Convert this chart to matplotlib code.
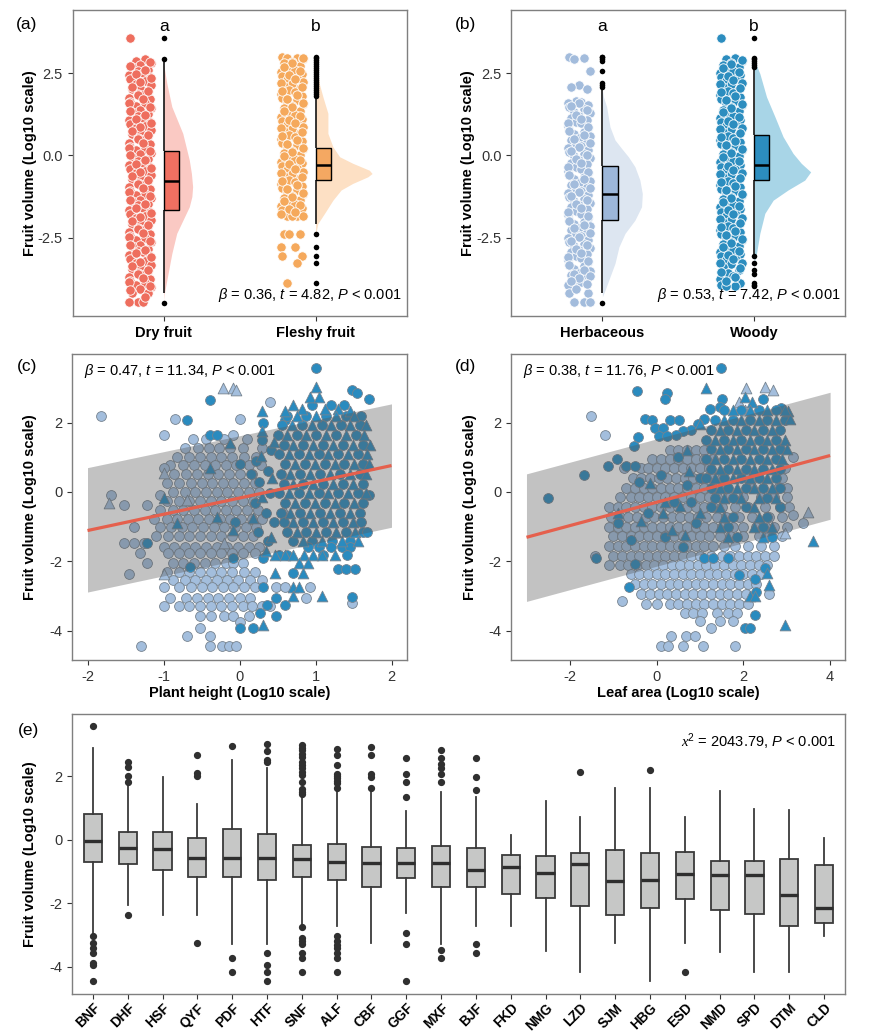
import numpy as np
import matplotlib
matplotlib.use('Agg')
import matplotlib.pyplot as plt
from matplotlib.patches import Rectangle

plt.rcParams['font.family'] = ['Liberation Sans', 'DejaVu Sans']
plt.rcParams['mathtext.fontset'] = 'custom'
plt.rcParams['mathtext.rm'] = 'Liberation Sans'
plt.rcParams['mathtext.it'] = 'Liberation Sans:italic'
plt.rcParams['mathtext.bf'] = 'Liberation Sans:bold'
plt.rcParams['mathtext.sf'] = 'Liberation Serif:italic'
plt.rcParams['axes.unicode_minus'] = False

# ---------------- data: panels (a) and (b) ----------------
a_categories = ['Dry fruit', 'Fleshy fruit']
b_categories = ['Herbaceous', 'Woody']
ab_letters = ['a', 'b']

dry_points = [3.58, 2.92, 2.87, 2.80, 2.74, 2.69, 2.61, 2.56, 2.49, 2.44, 2.37, 2.31, 2.26, 2.18, 2.13,
              2.06, 2.01, 1.94, 1.88, 1.83, 1.75, 1.70, 1.63, 1.58, 1.51, 1.45, 1.39, 1.32, 1.27, 1.20,
              1.14, 1.08, 1.01, 0.96, 0.89, 0.83, 0.77, 0.70, 0.65, 0.58, 0.52, 0.46, 0.39, 0.34, 0.27,
              0.21, 0.15, 0.08, 0.03, -0.04, -0.10, -0.16, -0.23, -0.28, -0.35, -0.41, -0.47, -0.54,
              -0.59, -0.66, -0.72, -0.78, -0.85, -0.90, -0.97, -1.03, -1.09, -1.16, -1.21, -1.28, -1.34,
              -1.40, -1.47, -1.52, -1.59, -1.65, -1.71, -1.78, -1.83, -1.90, -1.96, -2.02, -2.09, -2.14,
              -2.21, -2.27, -2.33, -2.40, -2.45, -2.52, -2.58, -2.64, -2.71, -2.76, -2.83, -2.89, -2.95,
              -3.02, -3.07, -3.14, -3.20, -3.26, -3.33, -3.38, -3.45, -3.51, -3.57, -3.64, -3.69, -3.76,
              -3.82, -3.88, -3.95, -4.00, -4.07, -4.19, -4.19, -4.46, -4.46, -4.46,
              2.84, 2.71, 2.59, 2.46, 2.34, 2.22, 2.09, 1.97, 1.85, 1.72, 1.60, 1.48, 1.35, 1.23, 1.11,
              0.98, 0.86, 0.74, 0.61, 0.49, 0.37, 0.24, 0.12, 0.0, -0.13, -0.25, -0.38, -0.50, -0.62,
              -0.75, -0.87, -0.99, -1.12, -1.24, -1.37, -1.49, -1.61, -1.74, -1.86, -1.99, -2.11, -2.24,
              -2.36, -2.48, -2.61, -2.73, -2.86, -2.98, -3.10, -3.23, -3.35, -3.48, -3.60, -3.72, -3.85,
              -3.97, -4.10, -4.30]
fleshy_points = [3.0, 2.97, 2.97, 2.92, 2.85, 2.80, 2.73, 2.67, 2.60, 2.55, 2.48, 2.42, 2.36, 2.29, 2.24,
                 2.17, 2.11, 2.05, 1.98, 1.93, 1.86, 1.80, 1.74, 1.67, 1.62, 1.55, 1.49, 1.43, 1.36, 1.31,
                 1.24, 1.18, 1.12, 1.05, 1.00, 0.93, 0.87, 0.81, 0.74, 0.69, 0.62, 0.56, 0.50, 0.43, 0.38,
                 0.31, 0.25, 0.19, 0.12, 0.07, 0.0, -0.06, -0.12, -0.19, -0.24, -0.31, -0.37, -0.43, -0.50,
                 -0.55, -0.62, -0.68, -0.74, -0.81, -0.86, -0.93, -0.99, -1.05, -1.12, -1.17, -1.24, -1.30,
                 -1.36, -1.43, -1.48, -1.55, -1.61, -1.67, -1.85, -1.85, -1.85, -1.85, -2.39, -2.39, -2.39,
                 -2.78, -2.78, -3.05, -3.05, -3.28, -3.89,
                 2.95, 2.82, 2.70, 2.57, 2.45, 2.33, 2.20, 2.08, 1.96, 1.83, 1.71, 1.59, 1.46, 1.34, 1.21,
                 1.09, 0.97, 0.84, 0.72, 0.60, 0.47, 0.35, 0.22, 0.10, -0.03, -0.15, -0.27, -0.40, -0.52,
                 -0.65, -0.77, -0.89, -1.02, -1.14, -1.27, -1.39, -1.51, -1.64, -1.72, -1.78]
herb_points = [3.0, 2.95, 2.93, 2.58, 2.14, 2.07, 2.02, 1.65, 1.62, 1.58, 1.52, 1.46, 1.40, 1.33, 1.28,
               1.21, 1.15, 1.09, 1.02, 0.97, 0.90, 0.84, 0.78, 0.71, 0.66, 0.59, 0.53, 0.47, 0.40, 0.35,
               0.28, 0.22, 0.16, 0.09, 0.04, -0.03, -0.09, -0.15, -0.22, -0.27, -0.34, -0.40, -0.46, -0.53,
               -0.58, -0.65, -0.71, -0.77, -0.84, -0.89, -0.96, -1.02, -1.08, -1.15, -1.20, -1.27, -1.33,
               -1.39, -1.46, -1.51, -1.58, -1.64, -1.70, -1.77, -1.82, -1.89, -1.95, -2.01, -2.08, -2.13,
               -2.20, -2.26, -2.32, -2.39, -2.44, -2.51, -2.57, -2.63, -2.70, -2.75, -2.82, -2.88, -2.94,
               -3.01, -3.06, -3.13, -3.19, -3.25, -3.32, -3.37, -3.44, -3.50, -3.56, -3.63, -3.70, -3.78,
               -3.86, -3.95, -4.19, -4.19, -4.46, -4.46, -4.46,
               1.60, 1.49, 1.37, 1.24, 1.12, 1.00, 0.87, 0.75, 0.63, 0.50, 0.38, 0.26, 0.13, 0.01, -0.12,
               -0.24, -0.36, -0.49, -0.61, -0.73, -0.86, -0.98, -1.11, -1.23, -1.36, -1.48, -1.60, -1.73,
               -1.85, -1.98, -2.10, -2.22, -2.35, -2.47, -2.60, -2.72, -2.85, -2.97, -3.09, -3.22, -3.34,
               -3.47, -3.59, -3.66, -3.74, -3.82, -3.90, -4.05]
woody_points = [3.58, 2.95, 2.92, 2.88, 2.82, 2.76, 2.70, 2.63, 2.58, 2.51, 2.45, 2.39, 2.32, 2.27, 2.20,
                2.14, 2.08, 2.01, 1.96, 1.89, 1.83, 1.77, 1.70, 1.65, 1.58, 1.52, 1.46, 1.39, 1.34, 1.27,
                1.21, 1.15, 1.08, 1.03, 0.96, 0.90, 0.84, 0.77, 0.72, 0.65, 0.59, 0.53, 0.46, 0.41, 0.34,
                0.28, 0.22, 0.15, 0.10, 0.03, -0.03, -0.09, -0.16, -0.21, -0.28, -0.34, -0.40, -0.47, -0.52,
                -0.59, -0.65, -0.71, -0.78, -0.83, -0.90, -0.96, -1.02, -1.09, -1.14, -1.21, -1.27, -1.33,
                -1.40, -1.45, -1.52, -1.58, -1.64, -1.71, -1.76, -1.83, -1.89, -1.95, -2.02, -2.07, -2.14,
                -2.20, -2.26, -2.33, -2.38, -2.45, -2.51, -2.57, -2.64, -2.69, -2.76, -2.82, -2.88, -2.95,
                -3.00, -3.07, -3.13, -3.19, -3.26, -3.31, -3.38, -3.49, -3.56, -3.66, -3.75, -3.89, -3.95,
                -3.97, -3.97,
                2.90, 2.79, 2.67, 2.54, 2.42, 2.30, 2.17, 2.05, 1.93, 1.80, 1.68, 1.56, 1.43, 1.31, 1.18,
                1.06, 0.94, 0.81, 0.69, 0.57, 0.44, 0.32, 0.19, 0.07, -0.06, -0.18, -0.31, -0.43, -0.55,
                -0.68, -0.80, -0.93, -1.05, -1.17, -1.30, -1.42, -1.55, -1.67, -1.79, -1.92, -2.04, -2.17,
                -2.29, -2.41, -2.54, -2.66, -2.79, -2.91, -3.03, -3.16, -3.28, -3.41, -3.53, -3.70, -3.82]

# box statistics (q1, median, q3, lower whisker, upper whisker)
dry_box = [-1.66, -0.78, 0.14, -4.19, 2.83]
fleshy_box = [-0.76, -0.28, 0.24, -2.07, 1.78]
herb_box = [-1.95, -1.18, -0.32, -4.19, 1.99]
woody_box = [-0.76, -0.28, 0.62, -3.01, 2.64]
dry_fliers = [3.58, 2.92, -4.48]
fleshy_fliers = [1.82, 1.88, 1.93, 1.99, 2.05, 2.11, 2.17, 2.23, 2.29, 2.35, 2.41, 2.47, 2.53, 2.59,
                 2.65, 2.71, 2.77, 2.83, 2.89, 2.95, 3.0, -2.39, -2.78, -3.05, -3.28, -3.89]
herb_fliers = [2.09, 2.14, 2.19, 2.58, 2.88, 2.93, 2.98, 3.0, -4.48]
woody_fliers = [2.70, 2.76, 2.82, 2.88, 2.93, 2.97, 3.58, -3.05, -3.28, -3.49, -3.59, -3.89, -3.95, -3.97]

# half-violin outlines (y, half width in category units)
dry_violin_y = [2.75, 2.19, 1.48, 0.67, -0.14, -0.55, -0.95, -1.25, -1.56, -1.95, -2.37, -2.98, -3.79, -4.19, -4.4]
dry_violin_w = [0.0, 0.02, 0.053, 0.125, 0.168, 0.182, 0.19, 0.185, 0.168, 0.128, 0.085, 0.053, 0.02, 0.004, 0.0]
fleshy_violin_y = [3.0, 2.6, 2.15, 1.75, 1.28, 0.67, 0.26, -0.04, -0.24, -0.45, -0.55, -0.65, -0.85, -1.05, -1.36, -1.76, -2.07, -2.4]
fleshy_violin_w = [0.0, 0.012, 0.026, 0.05, 0.081, 0.081, 0.114, 0.158, 0.245, 0.354, 0.372, 0.344, 0.245, 0.168, 0.114, 0.059, 0.015, 0.0]
herb_violin_y = [1.99, 1.78, 1.48, 0.87, 0.47, 0.21, -0.04, -0.34, -0.75, -1.16, -1.56, -1.97, -2.37, -2.78, -3.28, -3.69, -4.09, -4.3]
herb_violin_w = [0.0, 0.007, 0.028, 0.05, 0.083, 0.127, 0.171, 0.214, 0.247, 0.263, 0.258, 0.214, 0.149, 0.109, 0.083, 0.05, 0.018, 0.0]
woody_violin_y = [2.9, 2.49, 1.78, 1.18, 0.57, 0.06, -0.24, -0.5, -0.75, -1.05, -1.36, -1.76, -2.37, -2.98, -3.28]
woody_violin_w = [0.0, 0.037, 0.081, 0.136, 0.19, 0.256, 0.31, 0.372, 0.333, 0.223, 0.125, 0.07, 0.037, 0.015, 0.0]

a_stat_text = r"$\beta$ = 0.36, $t$ = 4.82, $P$ < 0.001"
b_stat_text = r"$\beta$ = 0.53, $t$ = 7.42, $P$ < 0.001"

# ---------------- data: panel (c) plant height ----------------
c_herb_circle_rows = [
    (2.19, [-1.82]), (2.6, [0.40]), (2.1, [-0.85, 0.0]), (1.63, [-1.0, -0.09]),
    (1.53, [-0.61, -0.44, -0.2, 0.1]),
    (1.28, [-0.72, -0.55, -0.4, -0.27, -0.12, 0.05, 0.3]),
    (1.02, [-0.82, -0.66, -0.52, -0.38, -0.24, -0.1, 0.06, 0.22]),
    (0.78, [-0.92, -0.74, -0.6, -0.46, -0.32, -0.18, -0.04, 0.12, 0.28]),
    (0.68, [-1.0]),
    (0.52, [-0.86, -0.7, -0.56, -0.42, -0.28, -0.14, 0.0, 0.16]),
    (0.26, [-0.95, -0.8, -0.64, -0.5, -0.36, -0.22, -0.08, 0.06, 0.2]),
    (0.0, [-0.88, -0.72, -0.58, -0.44, -0.3, -0.16, -0.02, 0.12, 0.26]),
    (-0.1, [-1.69, -1.05]),
    (-0.26, [-0.96, -0.8, -0.66, -0.52, -0.38, -0.24, -0.1, 0.04, 0.18]),
    (-0.39, [-1.52, -1.22]),
    (-0.52, [-1.04, -0.88, -0.74, -0.6, -0.46, -0.32, -0.18, -0.04, 0.1, 0.24]),
    (-0.78, [-1.12, -0.96, -0.82, -0.68, -0.54, -0.4, -0.26, -0.12, 0.02, 0.16, 0.3]),
    (-1.02, [-1.39, -1.04, -0.9, -0.76, -0.62, -0.48, -0.34, -0.2, -0.06, 0.08, 0.22]),
    (-1.28, [-1.1, -0.94, -0.8, -0.66, -0.52, -0.38, -0.24, -0.1, 0.04, 0.18]),
    (-1.46, [-1.52, -1.39, -1.26]),
    (-1.58, [-1.0, -0.86, -0.72, -0.58, -0.44, -0.3, -0.16, -0.02, 0.12, 0.26]),
    (-1.77, [-1.31, -0.94, -0.8, -0.66, -0.52, -0.38, -0.24, -0.1, 0.04, 0.2]),
    (-2.06, [-1.22, -0.88, -0.74, -0.6, -0.46, -0.32, -0.18, -0.09, 0.04]),
    (-2.3, [-0.96, -0.8, -0.66, -0.52, -0.38, -0.24, -0.1, 0.06, 0.2]),
    (-2.37, [-1.45]),
    (-2.55, [-0.88, -0.72, -0.58, -0.44, -0.3, -0.16, -0.02, 0.14, 0.3]),
    (-2.75, [-1.0, -0.8, -0.64, -0.5, -0.36, -0.22, -0.08, 0.06, 0.2, 0.48, 0.6, 0.93]),
    (-3.05, [-0.91, -0.7, -0.56, -0.42, -0.28, -0.14, 0.0, 0.14, 0.88]),
    (-3.21, [1.48]),
    (-3.3, [-1.0, -0.8, -0.66, -0.52, -0.38, -0.24, -0.1, 0.04, 0.16, 0.3, 0.4]),
    (-3.58, [-0.52, -0.38, -0.2, -0.08, 0.12]),
    (-3.74, [0.0]), (-3.93, [-0.52]), (-4.17, [-0.69, -0.39]),
    (-4.46, [-1.3, -0.39, -0.23, -0.14, -0.04]),
]
c_herb_triangle_rows = [
    (2.99, [-0.22, -0.08]), (2.94, [-0.04]), (0.54, [-1.0]), (-0.32, [-1.72]),
    (-0.23, [-0.69]), (-0.52, [0.58]), (-1.47, [-0.21]), (-2.36, [-1.0]),
]
c_woody_circle_rows = [
    (3.58, [1.0]), (2.94, [1.48]), (2.85, [1.55]), (2.67, [1.7]), (2.65, [-0.39]),
    (2.5, [0.95, 1.2, 1.38]), (2.07, [-0.69, 0.6]), (2.0, [0.31]), (1.63, [-0.39, -0.3]),
    (2.2, [0.62, 0.88, 1.14, 1.4, 1.6]),
    (1.92, [0.56, 0.82, 1.08, 1.34, 1.58]),
    (1.64, [0.5, 0.75, 1.01, 1.27, 1.53]),
    (1.5, [0.3]),
    (1.36, [0.58, 0.84, 1.1, 1.36, 1.62]),
    (1.2, [0.42]),
    (1.08, [0.52, 0.78, 1.04, 1.3, 1.56]),
    (0.9, [0.22]),
    (0.8, [0.0, 0.6, 0.86, 1.12, 1.38, 1.62]),
    (0.6, [0.38]),
    (0.52, [0.15, 0.54, 0.8, 1.06, 1.32, 1.58]),
    (0.3, [0.25]),
    (0.24, [0.58, 0.84, 1.1, 1.36, 1.62]),
    (-0.04, [0.4, 0.52, 0.78, 1.04, 1.3, 1.56]),
    (-0.1, [1.7]),
    (-0.32, [0.2, 0.6, 0.86, 1.12, 1.38, 1.62]),
    (-0.6, [0.35, 0.54, 0.8, 1.06, 1.32, 1.58]),
    (-0.88, [-0.06, 0.45, 0.58, 0.84, 1.1, 1.36, 1.6]),
    (-1.16, [0.24, 0.62, 0.88, 1.14, 1.4, 1.63, 1.68]),
    (-1.42, [0.38, 0.7, 0.96, 1.22, 1.46]),
    (-1.46, [-1.22]),
    (-1.58, [0.9, 1.05, 1.2, 1.35, 1.45]),
    (-1.82, [0.52, 0.62, 1.1, 1.41]),
    (-1.91, [-0.08, 0.31]),
    (-2.18, [-0.65]),
    (-2.22, [1.3, 1.4, 1.52]),
    (-2.35, [0.71]),
    (-2.75, [0.31]), (-3.02, [1.48]), (-3.05, [0.48]), (-3.26, [0.36, 0.6]),
    (-3.5, [0.27]), (-3.58, [0.48]), (-3.94, [0.0, 0.18]),
]
c_woody_triangle_rows = [
    (3.04, [1.0]), (2.75, [0.93, 1.05]), (2.51, [0.71]), (2.4, [0.82, 1.12, 1.3]),
    (2.32, [0.29, 0.6, 1.45]),
    (2.2, [0.75, 1.01, 1.27, 1.5]),
    (1.92, [0.69, 0.95, 1.21, 1.46, 1.66]),
    (1.75, [0.3]),
    (1.64, [0.62, 0.88, 1.14, 1.4, 1.64]),
    (1.45, [0.45]),
    (1.4, [-0.12]),
    (1.36, [0.71, 0.97, 1.23, 1.49, 1.72]),
    (1.08, [0.65, 0.91, 1.17, 1.43, 1.68]),
    (1.05, [0.28]),
    (0.8, [0.73, 0.99, 1.25, 1.5, 1.7]),
    (0.68, [-0.39]),
    (0.52, [0.67, 0.93, 1.19, 1.45, 1.66]),
    (0.4, [0.43]),
    (0.24, [0.71, 0.97, 1.23, 1.49]),
    (-0.04, [0.65, 0.91, 1.17, 1.43, 1.66]),
    (-0.15, [0.3]),
    (-0.19, [-1.0]),
    (-0.32, [0.73, 0.99, 1.25, 1.5]),
    (-0.6, [0.67, 0.93, 1.19, 1.45]),
    (-0.71, [-0.3]),
    (-0.75, [0.18]),
    (-0.88, [0.71, 0.97, 1.23, 1.49]),
    (-0.9, [-0.82]),
    (-1.1, [-0.08]),
    (-1.16, [0.75, 1.01, 1.27, 1.52]),
    (-1.3, [0.42]),
    (-1.42, [0.83, 1.09, 1.35, 1.56]),
    (-1.7, [0.35]),
    (-1.82, [0.47, 0.6, 0.71, 0.85, 0.97, 1.08, 1.25]),
    (-2.06, [0.78, 0.9]),
    (-2.35, [0.47, 0.83]),
    (-2.73, [0.71, 0.78]),
    (-3.0, [0.71, 1.08]),
    (-3.84, [0.31]),
]
c_fit_x = [-2.0, 2.0]
c_fit_y = [-1.115, 0.76]
c_band_low = [-2.89, -1.02]
c_band_high = [0.70, 2.54]
c_stat_text = r"$\beta$ = 0.47, $t$ = 11.34, $P$ < 0.001"

# ---------------- data: panel (d) leaf area ----------------
d_herb_circle_rows = [
    (2.19, [-1.51]), (1.63, [-1.2]),
    (1.2, [0.3, 0.5, 0.7, 0.9, 1.1]),
    (1.02, [3.14]),
    (0.95, [-0.1, 0.1, 0.3, 0.5, 0.7, 0.9, 1.1, 1.3]),
    (0.68, [-0.75, -0.35, -0.2, 0.0, 0.2, 0.4, 0.6, 0.8, 1.0, 1.2, 2.95]),
    (0.4, [-0.55, -0.35, -0.15, 0.05, 0.25, 0.45, 0.65, 0.85, 1.05, 1.25, 1.5, 2.1, 2.9]),
    (0.12, [-0.7, -0.5, -0.3, -0.1, 0.1, 0.3, 0.5, 0.7, 0.9, 1.1, 1.3, 1.6, 2.2, 2.8, 3.0]),
    (-0.16, [-0.85, -0.6, -0.4, -0.2, 0.0, 0.2, 0.4, 0.6, 0.8, 1.0, 1.2, 1.4, 1.7, 2.0, 2.4, 2.7, 3.0]),
    (-0.44, [-1.1, -0.9, -0.7, -0.5, -0.3, -0.1, 0.1, 0.3, 0.5, 0.7, 0.9, 1.1, 1.3, 1.5, 1.8, 2.1, 2.5, 2.85, 3.05]),
    (-0.66, [3.14]),
    (-0.72, [-1.05, -0.85, -0.65, -0.45, -0.25, -0.05, 0.15, 0.35, 0.55, 0.75, 0.95, 1.15, 1.4, 1.6, 1.9, 2.2, 2.6, 2.9]),
    (-0.9, [3.37]),
    (-1.0, [-1.1, -0.9, -0.7, -0.5, -0.3, -0.1, 0.1, 0.3, 0.5, 0.7, 0.9, 1.1, 1.3, 1.5, 1.75, 2.0, 2.3, 2.7, 3.0]),
    (-1.28, [-1.0, -0.8, -0.6, -0.4, -0.2, 0.0, 0.2, 0.4, 0.6, 0.8, 1.0, 1.2, 1.45, 1.7, 2.0, 2.35, 2.6, 2.9]),
    (-1.56, [-1.1, -0.9, -0.7, -0.5, -0.3, -0.1, 0.1, 0.3, 0.5, 0.7, 0.9, 1.1, 1.3, 1.55, 1.8, 2.1, 2.4, 2.7]),
    (-1.84, [-1.42, -1.0, -0.8, -0.6, -0.4, -0.2, 0.0, 0.2, 0.4, 0.6, 0.8, 1.0, 1.25, 1.5, 1.7, 1.9, 2.1, 2.3, 2.5, 2.7]),
    (-2.1, [-1.1, -0.85, -0.65, -0.45, -0.25, -0.05, 0.15, 0.35, 0.55, 0.75, 0.95, 1.15, 1.35, 1.55, 1.75, 1.95, 2.15, 2.35, 2.55]),
    (-2.38, [-0.6, -0.4, -0.2, 0.0, 0.2, 0.4, 0.6, 0.8, 1.0, 1.2, 1.4, 1.6, 1.8, 2.0, 2.2, 2.4]),
    (-2.66, [-0.5, -0.3, -0.1, 0.1, 0.3, 0.5, 0.7, 0.9, 1.1, 1.3, 1.5, 1.7, 1.9, 2.1, 2.3]),
    (-2.94, [-0.35, -0.15, 0.05, 0.25, 0.45, 0.65, 0.85, 1.05, 1.25, 1.45, 1.65, 1.85, 2.05, 2.6]),
    (-3.16, [-0.8]),
    (-3.22, [-0.25, 0.0, 0.3, 0.5, 0.7, 0.9, 1.1, 1.3, 1.5, 1.7, 1.9, 2.1]),
    (-3.5, [0.65, 0.85, 1.05, 1.4, 1.65, 1.85]),
    (-3.72, [1.0, 1.45, 1.75]),
    (-3.93, [1.25]),
    (-4.17, [0.34, 0.67, 0.88]),
    (-4.46, [0.11, 0.27, 0.61, 1.07, 1.8]),
]
d_herb_triangle_rows = [
    (3.04, [2.49]), (2.99, [2.07]), (2.94, [2.68]), (2.37, [2.03]), (2.6, [1.9]),
    (-0.57, [3.49]), (-1.0, [2.57]), (-1.19, [2.95]),
]
d_woody_circle_rows = [
    (3.58, [1.49]), (2.92, [-0.46]), (2.85, [0.25]), (2.67, [0.19, 1.51, 2.45]),
    (2.44, [1.46]), (2.41, [2.87]), (2.38, [1.23]),
    (2.35, [1.55, 1.95, 2.35, 2.75]),
    (2.1, [-0.27, 1.1]), (2.08, [-0.1]), (2.07, [0.31, 0.52, 1.35, 1.75, 2.15, 2.55, 2.95]),
    (1.95, [0.95]), (1.85, [-0.04, 0.14]), (1.8, [0.8]),
    (1.79, [1.25, 1.65, 2.05, 2.45, 2.85]),
    (1.75, [0.6]), (1.65, [0.45]), (1.6, [0.05, 0.25]), (1.58, [-0.42]),
    (1.51, [1.15, 1.55, 1.95, 2.35, 2.75]),
    (1.33, [-0.51]),
    (1.23, [1.25, 1.65, 2.05, 2.45, 2.85]),
    (1.0, [0.5]),
    (0.95, [-0.92, 1.15, 1.55, 1.95, 2.35, 2.75]),
    (0.75, [-1.11, -0.71, -0.5]),
    (0.67, [1.25, 1.65, 2.05, 2.45, 2.85]),
    (0.5, [0.1]), (0.48, [-1.67]),
    (0.4, [1.0]),
    (0.39, [1.15, 1.55, 1.95, 2.35, 2.75]),
    (0.3, [-0.4]), (0.2, [0.7]),
    (0.11, [1.25, 1.65, 2.05, 2.45, 2.85]),
    (-0.19, [-2.5]),
    (-0.17, [1.35, 1.75, 2.55]),
    (-0.3, [0.4, 0.8]),
    (-0.45, [1.25, 2.05, 2.85]),
    (-0.6, [-0.2]),
    (-0.73, [1.75, 2.55]),
    (-0.9, [-0.9, 0.9]),
    (-1.01, [1.65, 2.45]),
    (-1.3, [0.2]), (-1.4, [-0.6]),
    (-1.29, [1.85, 2.65]),
    (-1.6, [0.6]),
    (-1.9, [1.1, 1.3]), (-1.91, [-1.4, 1.65]),
    (-2.08, [-0.5]), (-2.2, [2.5]), (-2.4, [1.9]), (-2.52, [2.26]),
    (-2.75, [-0.63]), (-2.9, [2.3]), (-3.55, [2.26]), (-3.93, [2.03, 2.15]),
]
d_woody_triangle_rows = [
    (2.99, [1.13]), (2.75, [2.03]), (2.6, [2.2]), (2.34, [3.04]), (2.1, [3.08]),
    (2.35, [1.75, 2.15, 2.55, 2.95]),
    (2.07, [1.55, 1.95, 2.35, 2.75]),
    (1.95, [1.0]),
    (1.79, [1.45, 1.85, 2.25, 2.65]),
    (1.51, [1.35, 1.75, 2.15, 2.55, 2.95]),
    (1.23, [1.45, 1.85, 2.25, 2.65, 3.0]),
    (1.2, [0.7]),
    (0.95, [1.35, 1.75, 2.15, 2.55, 2.9]),
    (0.67, [1.45, 1.85, 2.25, 2.65]),
    (0.6, [0.75]),
    (0.39, [1.35, 1.75, 2.15, 2.55]),
    (0.25, [-0.15]),
    (0.11, [1.45, 1.85, 2.25, 2.65]),
    (-0.17, [1.55, 1.95, 2.35, 2.75]),
    (-0.3, [0.2]),
    (-0.4, [0.55]),
    (-0.45, [1.45, 2.25]),
    (-0.6, [-0.9, 0.15, 1.0]),
    (-0.73, [1.55, 2.35]),
    (-0.85, [-0.35]),
    (-1.01, [1.45, 2.25, 2.65]),
    (-1.1, [0.35]),
    (-1.25, [0.65]),
    (-1.29, [1.65, 2.45]),
    (-1.43, [3.6]),
    (-2.35, [2.55]), (-2.7, [2.6]), (-3.0, [2.15, 2.26]), (-3.84, [2.97]),
]
d_fit_x = [-3.0, 4.0]
d_fit_y = [-1.31, 1.05]
d_band_low = [-3.16, -0.79]
d_band_high = [0.52, 2.875]
d_stat_text = r"$\beta$ = 0.38, $t$ = 11.76, $P$ < 0.001"

# ---------------- data: panel (e) sites ----------------
e_sites = ['BNF', 'DHF', 'HSF', 'QYF', 'PDF', 'HTF', 'SNF', 'ALF', 'CBF', 'GGF', 'MXF',
           'BJF', 'FKD', 'NMG', 'LZD', 'SJM', 'HBG', 'ESD', 'NMD', 'SPD', 'DTM', 'CLD']
e_median = [-0.03, -0.27, -0.28, -0.56, -0.56, -0.56, -0.59, -0.69, -0.73, -0.73, -0.73,
            -0.94, -0.87, -1.05, -0.77, -1.31, -1.28, -1.06, -1.11, -1.10, -1.74, -2.15]
e_q1 = [-0.69, -0.77, -0.94, -1.18, -1.18, -1.27, -1.18, -1.28, -1.47, -1.21, -1.47,
        -1.47, -1.71, -1.83, -2.09, -2.37, -2.16, -1.85, -2.22, -2.34, -2.73, -2.62]
e_q3 = [0.83, 0.25, 0.25, 0.07, 0.33, 0.17, -0.15, -0.13, -0.22, -0.27, -0.18,
        -0.26, -0.47, -0.52, -0.42, -0.33, -0.42, -0.38, -0.67, -0.67, -0.61, -0.80]
e_whisker_low = [-2.99, -2.05, -2.36, -2.36, -3.29, -3.29, -2.68, -2.73, -3.25, -2.31, -3.29,
                 -2.73, -2.73, -3.50, -4.18, -3.25, -4.46, -3.25, -3.55, -4.18, -4.18, -3.03]
e_whisker_high = [2.89, 1.73, 1.98, 1.14, 2.51, 2.27, 1.36, 1.57, 1.52, 0.91, 1.52,
                  1.34, 0.16, 1.23, 0.71, 1.63, 1.63, 0.72, 1.53, 0.98, 0.93, 0.06]
e_outliers = [
    [3.59, -3.04, -3.25, -3.41, -3.57, -3.88, -3.96, -4.46],
    [2.47, 2.31, 2.0, 1.84, -2.36],
    [],
    [2.68, 2.10, 2.02, -3.25],
    [2.97, -3.74, -4.18],
    [3.01, 2.80, 2.52, 2.46, -3.57, -3.94, -4.18, -4.46],
    [2.99, 2.91, 2.83, 2.72, 2.62, 2.47, 2.37, 2.26, 2.15, 2.05, 1.84, 1.60, 1.52, 1.45,
     -2.75, -3.10, -3.20, -3.29, -3.57, -3.73, -4.18],
    [2.87, 2.68, 2.36, 2.08, 2.0, 1.94, 1.85, 1.78, 1.63, -3.04, -3.2, -3.3, -3.41, -3.57, -3.73, -4.18],
    [2.94, 2.68, 2.08, 1.99, 1.63],
    [2.59, 2.08, 1.84, 1.35, -2.94, -3.28, -4.46],
    [2.83, 2.59, 2.38, 2.26, 2.08, 1.84, -3.46, -3.73],
    [2.59, 1.99, 1.57, -3.28, -3.57],
    [], [], [2.13], [], [2.19], [-4.18], [], [], [], [],
]
e_stat_text = r"$\mathsf{x}^2$ = 2043.79, $P$ < 0.001"

# ---------------- styling ----------------
W, H = 875, 1035
fig = plt.figure(figsize=(W / 100, H / 100), dpi=100)

def px_axes(l, t, r, b):
    return fig.add_axes([l / W, 1 - b / H, (r - l) / W, (b - t) / H])

SPINE = '#7F7F7F'
TXT = '#333333'

def style(ax):
    for s in ax.spines.values():
        s.set_color(SPINE)
        s.set_linewidth(1.0)
    ax.tick_params(direction='out', length=3.5, width=0.8, color=TXT,
                   labelsize=10.5, labelcolor=TXT)

def rows_to_xy(rows):
    xs, ys = [], []
    for y, xl in rows:
        for x in xl:
            xs.append(x)
            ys.append(y)
    return np.array(xs), np.array(ys)

jitter = [-0.072, 0.026, -0.036, 0.068, -0.004, -0.058, 0.048, -0.022, 0.012, -0.078, 0.058]

def raincloud(ax, pos, pts, box, fliers, vy, vw, pcol, bcol, vcol):
    vy = np.array(vy)
    vw = np.array(vw)
    ax.fill_betweenx(vy, pos, pos + vw, color=vcol, lw=0, zorder=1)
    pts = np.array(pts)
    xs = np.array([pos - 0.15 + jitter[i % len(jitter)] for i in range(len(pts))])
    ax.scatter(xs, pts, s=46, color=pcol, edgecolor='white', linewidth=0.6, zorder=2)
    q1, med, q3, lo, hi = box
    ax.vlines(pos, lo, q1, color='black', lw=1.1, zorder=3)
    ax.vlines(pos, q3, hi, color='black', lw=1.1, zorder=3)
    ax.add_patch(Rectangle((pos, q1), 0.1, q3 - q1, facecolor=bcol, edgecolor='black', lw=1.0, zorder=4))
    ax.hlines(med, pos, pos + 0.1, color='black', lw=1.8, zorder=5)
    ax.scatter(np.full(len(fliers), pos), fliers, s=16, color='black', zorder=5, linewidth=0)

def panel_ab(ax, cats, groups, stat_text, label_x):
    style(ax)
    for i, g in enumerate(groups):
        raincloud(ax, i + 1, *g)
    ax.set_xlim(0.4, 2.6)
    ax.set_ylim(-4.88, 4.41)
    ax.set_yticks([-2.5, 0.0, 2.5])
    ax.set_yticklabels(['-2.5', '0.0', '2.5'])
    ax.set_xticks([1, 2])
    ax.set_xticklabels(cats, fontweight='bold', color='black', fontsize=10.5)
    ax.set_ylabel('Fruit volume (Log10 scale)', fontweight='bold', fontsize=10.5)
    ax.yaxis.set_label_coords(label_x, 0.5)
    for i, l in enumerate(ab_letters):
        ax.text(i + 1, 3.92, l, ha='center', va='center', fontsize=12.5, color='black')
    ax.text(0.985, 0.07, stat_text, transform=ax.transAxes, ha='right', va='center', fontsize=10.5)

ax_a = px_axes(72.7, 10.3, 406.7, 316)
panel_ab(ax_a, a_categories,
         [(dry_points, dry_box, dry_fliers, dry_violin_y, dry_violin_w, '#EE6E5E', '#EF7061', '#FAC9C3'),
          (fleshy_points, fleshy_box, fleshy_fliers, fleshy_violin_y, fleshy_violin_w, '#F5A95C', '#F4A862', '#FDE0C4')],
         a_stat_text, -0.107)
ax_b = px_axes(511.3, 10.3, 845.3, 316)
panel_ab(ax_b, b_categories,
         [(herb_points, herb_box, herb_fliers, herb_violin_y, herb_violin_w, '#A3BCDC', '#9DB7D9', '#DDE6F1'),
          (woody_points, woody_box, woody_fliers, woody_violin_y, woody_violin_w, '#2C8DBF', '#2C8DBF', '#A8D5E7')],
         b_stat_text, -0.109)

HERB = '#A3BEDD'
WOOD = '#2A8BBF'
EDGE = '#76838F'

def panel_scatter(ax, hc, ht, wc, wt, fx, fy, blo, bhi, xlim, xticks, xlabel, stat_text, label_x):
    style(ax)
    x, y = rows_to_xy(hc)
    ax.scatter(x, y, s=50, marker='o', color=HERB, edgecolor=EDGE, linewidth=0.6, zorder=2)
    x, y = rows_to_xy(ht)
    ax.scatter(x, y, s=60, marker='^', color=HERB, edgecolor=EDGE, linewidth=0.6, zorder=2)
    x, y = rows_to_xy(wc)
    ax.scatter(x, y, s=50, marker='o', color=WOOD, edgecolor=EDGE, linewidth=0.6, zorder=2)
    x, y = rows_to_xy(wt)
    ax.scatter(x, y, s=60, marker='^', color=WOOD, edgecolor=EDGE, linewidth=0.6, zorder=2)
    ax.fill_between(fx, blo, bhi, color='#585858', alpha=0.36, lw=0, zorder=3)
    ax.plot(fx, fy, color='#E5604D', lw=2.3, zorder=4, solid_capstyle='butt')
    ax.set_xlim(*xlim)
    ax.set_ylim(-4.85, 3.97)
    ax.set_xticks(xticks)
    ax.set_yticks([-4, -2, 0, 2])
    ax.set_xlabel(xlabel, fontweight='bold', fontsize=10.5, labelpad=2)
    ax.set_ylabel('Fruit volume (Log10 scale)', fontweight='bold', fontsize=10.5)
    ax.yaxis.set_label_coords(label_x, 0.5)
    ax.text(0.035, 0.945, stat_text, transform=ax.transAxes, ha='left', va='center', fontsize=10.5)

ax_c = px_axes(72.3, 354.3, 406.7, 660)
panel_scatter(ax_c, c_herb_circle_rows, c_herb_triangle_rows, c_woody_circle_rows, c_woody_triangle_rows,
              c_fit_x, c_fit_y, c_band_low, c_band_high, (-2.2, 2.2), [-2, -1, 0, 1, 2],
              'Plant height (Log10 scale)', c_stat_text, -0.106)
ax_d = px_axes(511.3, 354.3, 845.3, 660)
panel_scatter(ax_d, d_herb_circle_rows, d_herb_triangle_rows, d_woody_circle_rows, d_woody_triangle_rows,
              d_fit_x, d_fit_y, d_band_low, d_band_high, (-3.35, 4.35), [-2, 0, 2, 4],
              'Leaf area (Log10 scale)', d_stat_text, -0.103)

# panel (e)
ax_e = px_axes(72, 714, 845, 994)
style(ax_e)
stats = []
for i in range(len(e_sites)):
    stats.append(dict(med=e_median[i], q1=e_q1[i], q3=e_q3[i], whislo=e_whisker_low[i],
                      whishi=e_whisker_high[i], fliers=e_outliers[i], label=e_sites[i]))
ax_e.bxp(stats, positions=range(len(e_sites)), widths=0.52, patch_artist=True, showcaps=False,
         boxprops=dict(facecolor='#C6C7C6', edgecolor='#3A3A3A', linewidth=1.3),
         medianprops=dict(color='#2E2E2E', linewidth=2.4),
         whiskerprops=dict(color='#3A3A3A', linewidth=1.3),
         flierprops=dict(marker='o', markerfacecolor='#303030', markeredgecolor='#303030', markersize=4.2))
ax_e.set_xlim(-0.6, len(e_sites) - 0.4)
ax_e.set_ylim(-4.86, 3.97)
ax_e.set_yticks([-4, -2, 0, 2])
ax_e.set_xticks(range(len(e_sites)))
ax_e.set_xticklabels(e_sites, rotation=45, ha='right', va='top', rotation_mode='anchor',
                     fontweight='bold', color='black', fontsize=9.8)
ax_e.tick_params(axis='x', pad=1.5)
ax_e.set_ylabel('Fruit volume (Log10 scale)', fontweight='bold', fontsize=10.5)
ax_e.yaxis.set_label_coords(-0.045, 0.5)
ax_e.text(0.988, 0.9, e_stat_text, transform=ax_e.transAxes, ha='right', va='center', fontsize=10.5)

for lab, x, y in [('(a)', 27, 24), ('(b)', 466, 24), ('(c)', 27, 367), ('(d)', 466, 367), ('(e)', 29, 730)]:
    fig.text(x / W, 1 - y / H, lab, ha='center', va='center', fontsize=12.5, color='black')

fig.savefig('out.png', dpi=100)
